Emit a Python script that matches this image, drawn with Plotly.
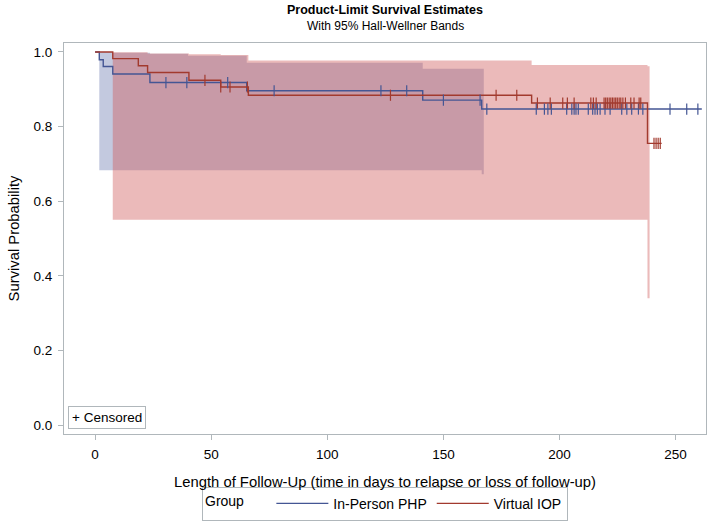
import numpy as np
import plotly.graph_objects as go

# --- survival step curves (event times in days, survival after the event)
php_time = [0, 1.8, 3.5, 7.6, 23.6, 65.3, 141.1, 166.5, 261.3]
php_surv = [1.0, 0.979, 0.961, 0.941, 0.918, 0.896, 0.871, 0.847, 0.847]

iop_time = [0, 7.6, 18.6, 22.6, 40.4, 54.1, 66.0, 188.0, 237.9, 244.0]
iop_surv = [1.0, 0.982, 0.963, 0.945, 0.924, 0.906, 0.884, 0.863, 0.755, 0.755]

# --- censored observations
php_cens = [30.5, 39.5, 57.1, 77.1, 123.1, 134.2, 150.0, 165.8, 168.7,
            190.0, 193.5, 195.0, 196.5, 203.1, 205.3, 206.3, 207.1, 208.1,
            212.4, 214.3, 215.3, 216.3, 217.5, 219.6, 221.8, 226.8, 229.0,
            231.1, 234.0, 235.9, 247.6, 254.8, 259.6]
iop_cens = [47.3, 54.1, 58.1, 65.6, 127.2, 172.7, 181.6, 190.5, 196.0,
            201.4, 203.4, 206.3, 213.5, 214.6, 215.8, 219.2, 219.9, 220.6,
            221.4, 222.1, 222.8, 223.5, 224.2, 224.9, 225.7, 226.4, 227.3,
            228.4, 230.7, 232.1, 234.3, 235.0, 240.7, 241.6, 242.5, 243.4]

# --- 95% Hall-Wellner bands
php_band_t = [1.8, 7.6, 23.6, 40.0, 65.3, 141.1, 166.5, 167.4]
php_band_up = [1.0, 0.998, 0.995, 0.99, 0.971, 0.955, 0.955, 0.955]
php_band_lo = [0.683, 0.683, 0.683, 0.683, 0.683, 0.683, 0.672, 0.672]

iop_band_t = [7.6, 22.6, 40.4, 54.1, 66.0, 188.0, 237.9, 238.8]
iop_band_up = [0.999, 0.996, 0.994, 0.992, 0.977, 0.965, 0.962, 0.962]
iop_band_lo = [0.55, 0.55, 0.55, 0.55, 0.55, 0.55, 0.34, 0.34]

x_ticks = [0, 50, 100, 150, 200, 250]
y_ticks = [0.0, 0.2, 0.4, 0.6, 0.8, 1.0]

BLUE = "#445694"
RED = "#A23A2E"
GRID = "#B0B7BB"
FONT = "Liberation Sans, Arial, sans-serif"


def surv_at(times, surv, t):
    # value of the step function at time t (right-continuous)
    i = np.searchsorted(np.array(times), t, side="right") - 1
    return [surv[k] for k in i]


fig = go.Figure()

# bands (blue first, red over it)
for bt, up, lo, col in [(php_band_t, php_band_up, php_band_lo, "rgba(111,126,179,0.42)"),
                        (iop_band_t, iop_band_up, iop_band_lo, "rgba(208,91,91,0.42)")]:
    fig.add_trace(go.Scatter(x=bt, y=up, mode="lines", line=dict(width=0, shape="hv"),
                             showlegend=False, hoverinfo="skip"))
    fig.add_trace(go.Scatter(x=bt, y=lo, mode="lines", line=dict(width=0, shape="hv"),
                             fill="tonexty", fillcolor=col,
                             showlegend=False, hoverinfo="skip"))

# curves
fig.add_trace(go.Scatter(x=php_time, y=php_surv, mode="lines", name="In-Person PHP",
                         line=dict(color=BLUE, width=1.4, shape="hv")))
fig.add_trace(go.Scatter(x=iop_time, y=iop_surv, mode="lines", name="Virtual IOP",
                         line=dict(color=RED, width=1.4, shape="hv")))

# censor marks
for ct, tt, ss, col in [(php_cens, php_time, php_surv, BLUE),
                        (iop_cens, iop_time, iop_surv, RED)]:
    fig.add_trace(go.Scatter(x=ct, y=surv_at(tt, ss, ct), mode="markers",
                             marker=dict(symbol="line-ns-open", size=8, color=col,
                                         line=dict(color=col, width=1.2)),
                             showlegend=False, hoverinfo="skip"))

fig.update_layout(
    width=709, height=524,
    margin=dict(l=64, r=3, t=43, b=88),
    paper_bgcolor="white", plot_bgcolor="white",
    font=dict(family=FONT, size=13, color="black"),
    showlegend=True,
    legend=dict(orientation="h", x=0.5, xanchor="center", y=-0.222, yanchor="bottom",
                traceorder="normal",
                bordercolor=GRID, borderwidth=1, font=dict(size=14),
                title=dict(text="Group     ", side="left", font=dict(size=14)),
                itemwidth=52, tracegroupgap=0),
    annotations=[
        dict(text="<b>Product-Limit Survival Estimates</b>", x=0.5, y=1.0, xref="paper",
             yref="paper", yshift=33, yanchor="middle", showarrow=False,
             font=dict(size=12.5)),
        dict(text="With 95% Hall-Wellner Bands", x=0.5, y=1.0, xref="paper",
             yref="paper", yshift=17, yanchor="middle", showarrow=False,
             font=dict(size=12)),
        dict(text="+ Censored", x=0.006, y=0.014, xref="paper", yref="paper",
             xanchor="left", yanchor="bottom", showarrow=False, font=dict(size=13.5),
             bordercolor=GRID, borderwidth=1, borderpad=3, bgcolor="white"),
    ],
)

fig.update_xaxes(range=[-13.4, 263.1], tickvals=x_ticks, ticks="outside", ticklen=5,
                 tickcolor=GRID, showline=True, mirror=True, linecolor=GRID,
                 showgrid=False, zeroline=False, tickfont=dict(size=13.5),
                 ticklabelstandoff=3,
                 title=dict(text="Length of Follow-Up (time in days to relapse or loss of follow-up)",
                            font=dict(size=14.8), standoff=15))
fig.update_yaxes(range=[-0.024, 1.024], tickvals=y_ticks, tickformat=".1f", ticks="outside",
                 ticklen=5, tickcolor=GRID, showline=True, mirror=True, linecolor=GRID,
                 showgrid=False, zeroline=False, tickfont=dict(size=13.5),
                 ticklabelstandoff=3,
                 title=dict(text="Survival Probability", font=dict(size=14.8), standoff=10))

# the page body has a default 8px margin; drop it so the figure sits at the corner
fig.write_html("out.html", config={"displayModeBar": False},
               post_script="document.body.style.margin='0px';")
